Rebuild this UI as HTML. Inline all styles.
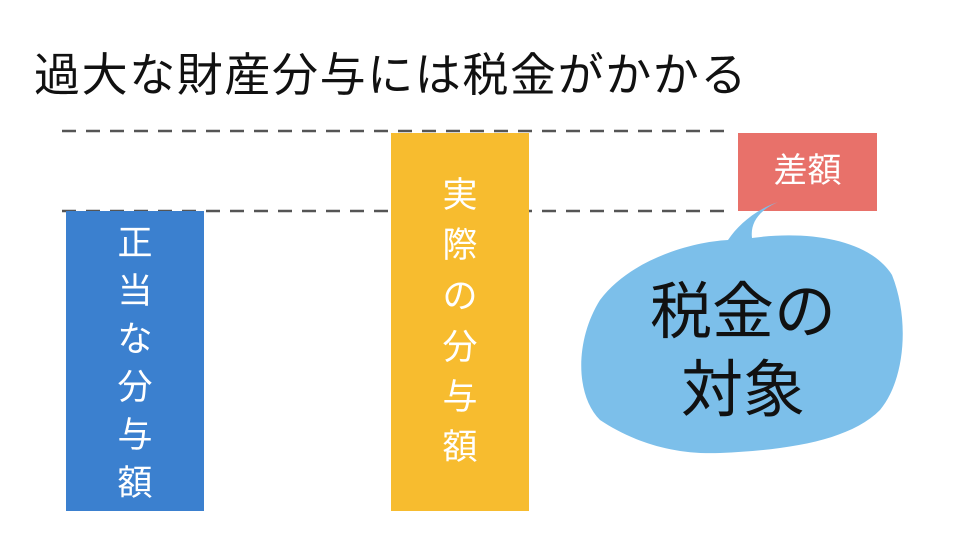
<!DOCTYPE html>
<html><head><meta charset="utf-8"><style>
body{margin:0;width:960px;height:540px;background:#fff;position:relative;overflow:hidden;font-family:"Liberation Sans","Noto Sans CJK JP",sans-serif}
.a{position:absolute}
.v{position:absolute;color:#fff;font-size:35px;line-height:35px;text-align:center;width:138px}
</style></head><body>
<div class="a" style="left:34px;top:46px;font-size:46px;letter-spacing:1.6px;line-height:58px;color:#111;white-space:nowrap">過大な財産分与には税金がかかる</div>
<svg class="a" style="left:0;top:0" width="960" height="540">
<line x1="62" y1="131" x2="728" y2="131" stroke="#555" stroke-width="2.5" stroke-dasharray="14,10"/>
<line x1="62" y1="211" x2="724" y2="211" stroke="#555" stroke-width="2.5" stroke-dasharray="14,10"/>
<rect x="66" y="211" width="138" height="300" fill="#3b80cf"/>
<rect x="391" y="133" width="138" height="378" fill="#f7bc2f"/>
<rect x="738" y="133" width="139" height="78" fill="#e8716a"/>
<path d="M778,202 C760,210 750,222 752,238 C810,230 870,240 892,275 C910,320 905,380 880,410 C850,440 790,450 720,453 C670,455 630,440 600,420 C575,395 575,340 600,300 C630,260 690,242 728,240 C738,225 755,210 778,202 Z" fill="#7cbfea"/>
</svg>
<div class="a" style="left:738px;top:150px;width:139px;text-align:center;color:#fff;font-size:34px;line-height:42px">差額</div>
<div class="v" style="left:66px;top:226px"><div style="height:48px">正</div><div style="height:48px">当</div><div style="height:48px">な</div><div style="height:48px">分</div><div style="height:48px">与</div><div>額</div></div>
<div class="v" style="left:391px;top:178px"><div style="height:50px">実</div><div style="height:51px">際</div><div style="height:51px">の</div><div style="height:50px">分</div><div style="height:50px">与</div><div>額</div></div>
<div class="a" style="left:623px;top:274px;width:240px;text-align:center;font-size:62px;line-height:78px;color:#111">税金の<br>対象</div>
</body></html>
